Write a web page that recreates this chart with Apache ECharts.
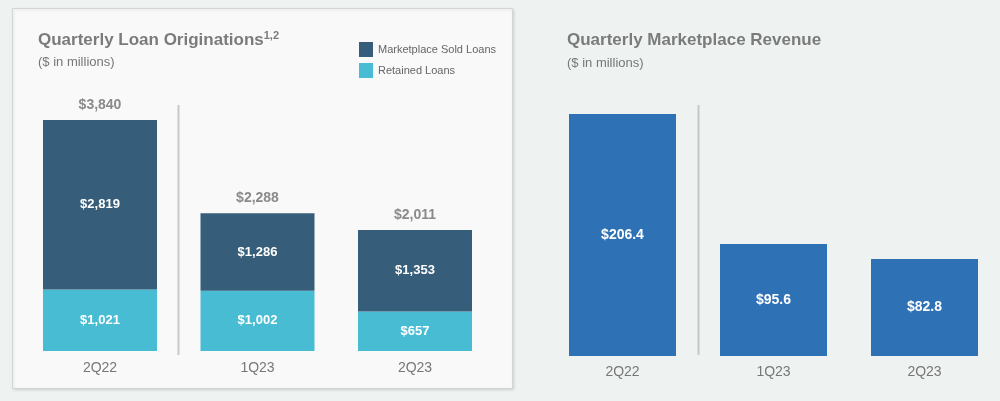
<!DOCTYPE html>
<html>
<head>
<meta charset="utf-8">
<script src="https://cdn.jsdelivr.net/npm/echarts@6/dist/echarts.min.js"></script>
<style>
html,body{margin:0;padding:0;background:#eef3f1;}
#chart{width:1000px;height:401px;}
</style>
</head>
<body>
<div id="chart"></div>
<script>
const categories = ['2Q22', '1Q23', '2Q23'];
const soldLoans = [2819, 1286, 1353];
const retainedLoans = [1021, 1002, 657];
const totalOriginations = [3840, 2288, 2011];
const revenue = [206.4, 95.6, 82.8];

const FONT = 'Liberation Sans, Arial, sans-serif';
const fmtMoney = v => '$' + Number(v).toLocaleString('en-US');
const fmtRev = v => '$' + Number(v).toFixed(1);

const chart = echarts.init(document.getElementById('chart'), null, {renderer: 'canvas'});

const innerLabel = {
  show: true, position: 'inside', color: '#ffffff', fontWeight: 'bold',
  fontSize: 13, fontFamily: FONT
};

chart.setOption({
  backgroundColor: '#eef3f1',
  animation: false,
  graphic: [
    {type: 'rect', z: 0, silent: true,
     shape: {x: 12.5, y: 8.5, width: 500, height: 380},
     style: {fill: '#f9f9f9', stroke: '#d3d6d6', lineWidth: 1,
             shadowBlur: 3, shadowColor: 'rgba(0,0,0,0.12)', shadowOffsetX: 1, shadowOffsetY: 1}},
    {type: 'line', z: 1, silent: true,
     shape: {x1: 178.5, y1: 105, x2: 178.5, y2: 355},
     style: {stroke: '#c8c8c8', lineWidth: 2}},
    {type: 'line', z: 1, silent: true,
     shape: {x1: 698.5, y1: 105, x2: 698.5, y2: 355},
     style: {stroke: '#c4c8c6', lineWidth: 2}}
  ],
  title: [
    {left: 38, top: 30, itemGap: 7, padding: 0,
     text: '{t|Quarterly Loan Originations}{s|1,2}',
     textStyle: {rich: {
       t: {fontSize: 17, fontWeight: 'bold', color: '#7b7b7b', fontFamily: FONT, lineHeight: 20},
       s: {fontSize: 11, fontWeight: 'bold', color: '#7b7b7b', fontFamily: FONT, lineHeight: 11, verticalAlign: 'top'}
     }},
     subtext: '($ in millions)',
     subtextStyle: {fontSize: 13, color: '#777777', fontFamily: FONT, lineHeight: 14}},
    {left: 567, top: 30, itemGap: 6, padding: 0,
     text: 'Quarterly Marketplace Revenue',
     textStyle: {fontSize: 17, fontWeight: 'bold', color: '#7b7b7b', fontFamily: FONT, lineHeight: 20},
     subtext: '($ in millions)',
     subtextStyle: {fontSize: 13, color: '#777777', fontFamily: FONT, lineHeight: 14}}
  ],
  legend: {
    data: ['Marketplace Sold Loans', 'Retained Loans'],
    orient: 'vertical', left: 359, top: 42, padding: 0,
    itemWidth: 14, itemHeight: 15, itemGap: 6, icon: 'rect',
    textStyle: {fontSize: 11, color: '#666666', fontFamily: FONT},
    selectedMode: false
  },
  grid: [
    {left: 21.25, width: 472.5, top: 120, height: 231},
    {left: 547, width: 453, top: 114, height: 242}
  ],
  xAxis: [
    {type: 'category', gridIndex: 0, data: categories,
     axisLine: {show: false}, axisTick: {show: false}, splitLine: {show: false},
     axisLabel: {margin: 10, fontSize: 14, color: '#777777', fontFamily: FONT}},
    {type: 'category', gridIndex: 1, data: categories,
     axisLine: {show: false}, axisTick: {show: false}, splitLine: {show: false},
     axisLabel: {margin: 9, fontSize: 14, color: '#777777', fontFamily: FONT}}
  ],
  yAxis: [
    {type: 'value', gridIndex: 0, min: 0, max: 3840, show: false, splitLine: {show: false}},
    {type: 'value', gridIndex: 1, min: 0, max: 206.4, show: false, splitLine: {show: false}}
  ],
  series: [
    {name: 'Retained Loans', type: 'bar', stack: 'orig', xAxisIndex: 0, yAxisIndex: 0,
     data: retainedLoans, barWidth: 114, z: 3,
     itemStyle: {color: '#48bcd3'},
     label: Object.assign({}, innerLabel, {formatter: p => fmtMoney(p.value)})},
    {name: 'Marketplace Sold Loans', type: 'bar', stack: 'orig', xAxisIndex: 0, yAxisIndex: 0,
     data: soldLoans, barWidth: 114, z: 3,
     itemStyle: {color: '#365e7a'},
     label: Object.assign({}, innerLabel, {formatter: p => fmtMoney(p.value)})},
    {name: 'Total', type: 'bar', xAxisIndex: 0, yAxisIndex: 0,
     data: totalOriginations, barWidth: 114, barGap: '-100%', z: 4,
     itemStyle: {color: 'rgba(0,0,0,0)'},
     label: {show: true, position: 'top', distance: 8, color: '#8a8a8a', fontWeight: 'bold',
             fontSize: 14, fontFamily: FONT, formatter: p => fmtMoney(p.value)}},
    {name: 'Marketplace Revenue', type: 'bar', xAxisIndex: 1, yAxisIndex: 1,
     data: revenue, barWidth: 107, z: 3,
     itemStyle: {color: '#2e72b5'},
     label: Object.assign({}, innerLabel, {fontSize: 14, formatter: p => fmtRev(p.value)})}
  ]
});
</script>
</body>
</html>
